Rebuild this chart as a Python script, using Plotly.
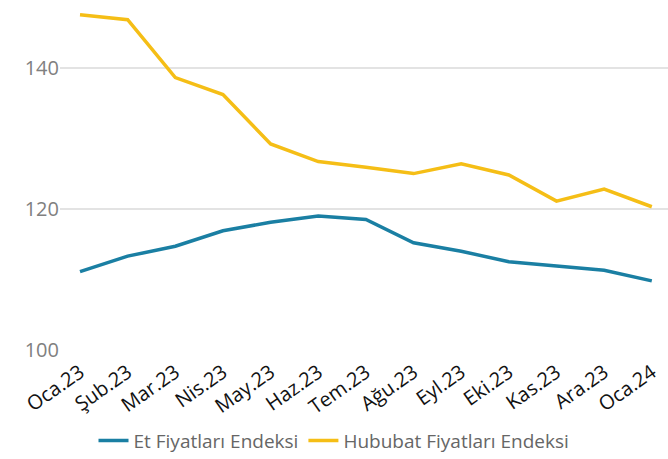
import plotly.graph_objects as go

# Monthly index values, Jan 2023 - Jan 2024
months = ["Oca.23", "Şub.23", "Mar.23", "Nis.23", "May.23", "Haz.23", "Tem.23",
          "Ağu.23", "Eyl.23", "Eki.23", "Kas.23", "Ara.23", "Oca.24"]
et_fiyat = [111.1, 113.3, 114.7, 116.9, 118.1, 119.0, 118.5,
            115.2, 114.0, 112.5, 111.9, 111.3, 109.8]
hububat_fiyat = [147.5, 146.8, 138.6, 136.2, 129.2, 126.7, 125.9,
                 125.0, 126.4, 124.8, 121.1, 122.8, 120.3]

FONT = "Open Sans"

fig = go.Figure()
fig.add_trace(go.Scatter(
    x=months, y=et_fiyat, mode="lines", name="Et Fiyatları Endeksi",
    line=dict(color="#1A7FA3", width=3.5),
))
fig.add_trace(go.Scatter(
    x=months, y=hububat_fiyat, mode="lines", name="Hububat Fiyatları Endeksi",
    line=dict(color="#F5BE16", width=3.5),
))

fig.update_layout(
    width=668, height=459,
    margin=dict(l=60, r=0, t=0, b=109),
    paper_bgcolor="white", plot_bgcolor="white",
    font=dict(family=FONT),
    showlegend=True,
    legend=dict(
        orientation="h", xref="container", yref="container",
        x=0.5, xanchor="center", y=0.04, yanchor="middle",
        font=dict(size=19, color="#666666", family=FONT),
        itemwidth=30, tracegroupgap=0,
    ),
    xaxis=dict(
        type="category", range=[-0.42, 12.34], automargin=False,
        showgrid=False, showline=False, zeroline=False,
        ticks="outside", ticklen=2, tickcolor="rgba(0,0,0,0)",
        tickangle=-35, tickfont=dict(size=20, color="#111111", family=FONT),
    ),
    yaxis=dict(
        range=[100, 149.6], tickvals=[100, 120, 140], automargin=False,
        showgrid=True, gridcolor="#e3e3e3", gridwidth=1.5,
        zeroline=False, showline=False, ticks="",
        ticksuffix="\u2002\u2009",
        tickfont=dict(size=20, color="#808080", family=FONT),
    ),
)

fig.write_html("out.html")
